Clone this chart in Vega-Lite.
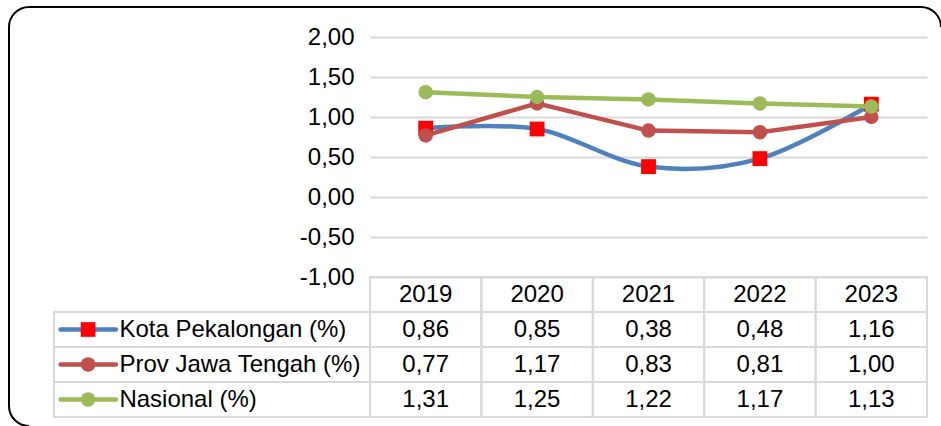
{
  "$schema": "https://vega.github.io/schema/vega-lite/v6.json",
  "width": 932,
  "height": 419,
  "autosize": "none",
  "padding": {"left": 9, "top": 7, "right": 0, "bottom": 0},
  "background": "#FFFFFF",
  "config": {
    "view": {"stroke": "#000000", "strokeWidth": 2, "cornerRadius": 20, "strokeDash": [923.4, 1302.4, 441.9, 200]},
    "font": "Liberation Sans",
    "axis": {"labelFont": "Liberation Sans"},
    "text": {"font": "Liberation Sans", "color": "#000000"},
    "locale": {"number": {"decimal": ",", "thousands": ".", "grouping": [3], "currency": ["", ""], "minus": "-"}}
  },
  "datasets": {
    "d": [
      {"year": "2019", "series": "Kota Pekalongan (%)", "value": 0.86},
      {"year": "2020", "series": "Kota Pekalongan (%)", "value": 0.85},
      {"year": "2021", "series": "Kota Pekalongan (%)", "value": 0.38},
      {"year": "2022", "series": "Kota Pekalongan (%)", "value": 0.48},
      {"year": "2023", "series": "Kota Pekalongan (%)", "value": 1.16},
      {"year": "2019", "series": "Prov Jawa Tengah (%)", "value": 0.77},
      {"year": "2020", "series": "Prov Jawa Tengah (%)", "value": 1.17},
      {"year": "2021", "series": "Prov Jawa Tengah (%)", "value": 0.83},
      {"year": "2022", "series": "Prov Jawa Tengah (%)", "value": 0.81},
      {"year": "2023", "series": "Prov Jawa Tengah (%)", "value": 1.00},
      {"year": "2019", "series": "Nasional (%)", "value": 1.31},
      {"year": "2020", "series": "Nasional (%)", "value": 1.25},
      {"year": "2021", "series": "Nasional (%)", "value": 1.22},
      {"year": "2022", "series": "Nasional (%)", "value": 1.17},
      {"year": "2023", "series": "Nasional (%)", "value": 1.13}
    ]
  },
  "data": {"name": "d"},
  "layer": [
    {
      "encoding": {
        "x": {"field": "year", "type": "ordinal", "bandPosition": 0.5,
              "scale": {"type": "band", "domain": ["2019", "2020", "2021", "2022", "2023"], "range": [361, 918], "paddingInner": 0, "paddingOuter": 0},
              "axis": null},
        "y": {"field": "value", "type": "quantitative",
              "scale": {"domain": [-1, 2], "range": [270, 30], "nice": false, "zero": false},
              "axis": {"values": [-1, -0.5, 0, 0.5, 1, 1.5, 2], "format": ".2f", "title": null, "domain": false, "ticks": false,
                       "offset": -361, "labelPadding": 16, "labelFontSize": 24, "labelColor": "#000000",
                       "grid": true, "gridColor": "#D9D9D9", "gridWidth": 2}}
      },
      "layer": [
        {
          "transform": [{"filter": "datum.series === 'Kota Pekalongan (%)'"}],
          "mark": {"type": "line", "color": "#4F81BD", "strokeWidth": 4.5, "interpolate": "cardinal", "strokeCap": "round", "strokeJoin": "round",
                   "point": {"shape": "square", "filled": true, "color": "#FF0000", "size": 220, "opacity": 1}}
        },
        {
          "transform": [{"filter": "datum.series === 'Prov Jawa Tengah (%)'"}],
          "mark": {"type": "line", "color": "#C0504D", "strokeWidth": 4.5, "strokeCap": "round", "strokeJoin": "round",
                   "point": {"shape": "circle", "filled": true, "color": "#C0504D", "size": 210, "opacity": 1}}
        },
        {
          "transform": [{"filter": "datum.series === 'Nasional (%)'"}],
          "mark": {"type": "line", "color": "#9BBB59", "strokeWidth": 4.5, "strokeCap": "round", "strokeJoin": "round",
                   "point": {"shape": "circle", "filled": true, "color": "#9BBB59", "size": 210, "opacity": 1}}
        }
      ]
    },
    {
      "layer": [
        {
          "mark": {"type": "rect", "fill": "transparent", "stroke": "#D9D9D9", "strokeWidth": 2},
          "encoding": {
            "x": {"field": "year", "type": "ordinal", "scale": {"type": "band", "domain": ["2019", "2020", "2021", "2022", "2023"], "range": [361, 918], "paddingInner": 0, "paddingOuter": 0}, "axis": null},
            "y": {"field": "series", "type": "nominal", "scale": {"type": "band", "domain": ["Tahun", "Kota Pekalongan (%)", "Prov Jawa Tengah (%)", "Nasional (%)"], "range": [270, 410], "paddingInner": 0, "paddingOuter": 0}, "axis": null}
          }
        },
        {
          "transform": [{"filter": "datum.series === 'Nasional (%)'"}],
          "mark": {"type": "rect", "fill": "transparent", "stroke": "#D9D9D9", "strokeWidth": 2},
          "encoding": {
            "x": {"field": "year", "type": "ordinal", "axis": null},
            "y": {"datum": "Tahun", "type": "nominal", "axis": null}
          }
        },
        {
          "mark": {"type": "text", "fontSize": 24, "align": "center", "baseline": "middle", "color": "#000000"},
          "encoding": {
            "x": {"field": "year", "type": "ordinal", "bandPosition": 0.5, "axis": null},
            "y": {"field": "series", "type": "nominal", "bandPosition": 0.5, "axis": null},
            "text": {"field": "value", "type": "quantitative", "format": ".2f"}
          }
        },
        {
          "transform": [{"filter": "datum.series === 'Nasional (%)'"}],
          "mark": {"type": "text", "fontSize": 24, "align": "center", "baseline": "middle", "color": "#000000"},
          "encoding": {
            "x": {"field": "year", "type": "ordinal", "bandPosition": 0.5, "axis": null},
            "y": {"datum": "Tahun", "type": "nominal", "bandPosition": 0.5, "axis": null},
            "text": {"field": "year", "type": "nominal"}
          }
        }
      ]
    },
    {
      "transform": [{"filter": "datum.year === '2019'"}],
      "layer": [
        {
          "mark": {"type": "rect", "fill": "transparent", "stroke": "#D9D9D9", "strokeWidth": 2},
          "encoding": {
            "x": {"datum": 0, "type": "quantitative", "scale": {"domain": [0, 1], "range": [45, 361], "nice": false, "zero": false}, "axis": null},
            "x2": {"datum": 1},
            "y": {"field": "series", "type": "nominal", "scale": {"type": "band", "domain": ["Tahun", "Kota Pekalongan (%)", "Prov Jawa Tengah (%)", "Nasional (%)"], "range": [270, 410], "paddingInner": 0, "paddingOuter": 0}, "axis": null}
          }
        },
        {
          "mark": {"type": "rule", "strokeWidth": 4.5, "strokeCap": "round"},
          "encoding": {
            "x": {"datum": 0.021, "type": "quantitative", "axis": null},
            "x2": {"datum": 0.196},
            "y": {"field": "series", "type": "nominal", "bandPosition": 0.5, "axis": null},
            "color": {"field": "series", "type": "nominal", "scale": {"domain": ["Kota Pekalongan (%)", "Prov Jawa Tengah (%)", "Nasional (%)"], "range": ["#4F81BD", "#C0504D", "#9BBB59"]}, "legend": null}
          }
        },
        {
          "mark": {"type": "point", "filled": true, "size": 215, "opacity": 1},
          "encoding": {
            "x": {"datum": 0.108, "type": "quantitative", "axis": null},
            "y": {"field": "series", "type": "nominal", "bandPosition": 0.5, "axis": null},
            "fill": {"field": "series", "type": "nominal", "scale": {"domain": ["Kota Pekalongan (%)", "Prov Jawa Tengah (%)", "Nasional (%)"], "range": ["#FF0000", "#C0504D", "#9BBB59"]}, "legend": null},
            "shape": {"field": "series", "type": "nominal", "scale": {"domain": ["Kota Pekalongan (%)", "Prov Jawa Tengah (%)", "Nasional (%)"], "range": ["square", "circle", "circle"]}, "legend": null}
          }
        },
        {
          "mark": {"type": "text", "fontSize": 24, "align": "left", "baseline": "middle", "color": "#000000"},
          "encoding": {
            "x": {"datum": 0.207, "type": "quantitative", "axis": null},
            "y": {"field": "series", "type": "nominal", "bandPosition": 0.5, "axis": null},
            "text": {"field": "series", "type": "nominal"}
          }
        }
      ]
    }
  ],
  "resolve": {"scale": {"x": "independent", "y": "independent"}}
}
